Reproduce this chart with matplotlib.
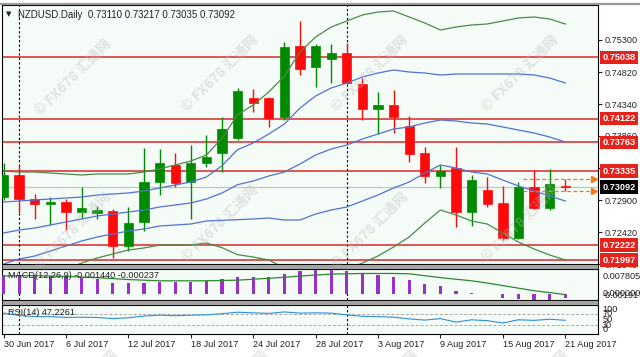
import matplotlib
matplotlib.use("Agg")
import matplotlib.pyplot as plt
import matplotlib.transforms as mtransforms
from matplotlib.patches import Rectangle
from matplotlib.lines import Line2D
import numpy as np

# ---------------------------------------------------------------------------
# Data (30 Jun - 21 Aug 2017)
# ---------------------------------------------------------------------------
tick_bars = [0, 4, 8, 12, 16, 20, 24, 28, 32, 36]
tick_dates = ["30 Jun 2017", "6 Jul 2017", "12 Jul 2017", "18 Jul 2017",
              "24 Jul 2017", "28 Jul 2017", "3 Aug 2017", "9 Aug 2017",
              "15 Aug 2017", "21 Aug 2017"]

opens = [0.72945, 0.73275, 0.72915, 0.72840, 0.72870, 0.72720, 0.72705, 0.72735,
         0.72210, 0.72570, 0.73170, 0.73425, 0.73170, 0.73455, 0.73605, 0.73830,
         0.74430, 0.74430, 0.74145, 0.75210, 0.74895, 0.75015, 0.75105, 0.74640,
         0.74265, 0.74325, 0.74010, 0.73605, 0.73260, 0.73380, 0.72720, 0.73050,
         0.72855, 0.72330, 0.73095, 0.72780, 0.73110]
highs = [0.73455, 0.73425, 0.72990, 0.72945, 0.72915, 0.73095, 0.72810, 0.72765,
         0.72795, 0.73680, 0.73665, 0.73605, 0.73725, 0.73875, 0.74145, 0.74580,
         0.74565, 0.74445, 0.75270, 0.75585, 0.75240, 0.75240, 0.75255, 0.74730,
         0.74520, 0.74550, 0.74160, 0.73695, 0.73425, 0.73695, 0.73275, 0.73245,
         0.73110, 0.73170, 0.73350, 0.73365, 0.73217]
lows = [0.72900, 0.72705, 0.72615, 0.72525, 0.72450, 0.72615, 0.72615, 0.72030,
        0.72135, 0.72435, 0.72975, 0.73095, 0.72615, 0.73395, 0.73320, 0.73800,
        0.74220, 0.73995, 0.74100, 0.74775, 0.74595, 0.74655, 0.74640, 0.74100,
        0.73890, 0.73905, 0.73470, 0.73155, 0.73080, 0.72495, 0.72510, 0.72795,
        0.72300, 0.72315, 0.72765, 0.72750, 0.73035]
closes = [0.73275, 0.72915, 0.72840, 0.72870, 0.72720, 0.72780, 0.72750, 0.72210,
          0.72555, 0.73170, 0.73455, 0.73155, 0.73455, 0.73545, 0.73965, 0.74535,
          0.74355, 0.74130, 0.75195, 0.74865, 0.75210, 0.75105, 0.74655, 0.74265,
          0.74325, 0.74145, 0.73590, 0.73260, 0.73335, 0.72720, 0.73200, 0.72840,
          0.72330, 0.73095, 0.72780, 0.73140, 0.73092]

# Bollinger middle line and one standard deviation (read per bar)
bb_mid = [0.72405, 0.72450, 0.72480, 0.72525, 0.72570, 0.72615, 0.72660, 0.72690,
          0.72720, 0.72750, 0.72795, 0.72825, 0.72855, 0.72915, 0.73005, 0.73130,
          0.73185, 0.73260, 0.73320, 0.73440, 0.73575, 0.73665, 0.73725, 0.73815,
          0.73890, 0.73965, 0.73995, 0.74055, 0.74100, 0.74085, 0.74055, 0.74040,
          0.73995, 0.73950, 0.73905, 0.73845, 0.73770]
bb_sd = [0.00465, 0.00435, 0.00420, 0.00390, 0.00360, 0.00330, 0.00315, 0.00300,
         0.00285, 0.00285, 0.00285, 0.00300, 0.00315, 0.00330, 0.00410, 0.00525,
         0.00570, 0.00630, 0.00720, 0.00840, 0.00885, 0.00915, 0.00930, 0.00930,
         0.00915, 0.00885, 0.00825, 0.00750, 0.00675, 0.00705, 0.00735, 0.00750,
         0.00795, 0.00840, 0.00870, 0.00885, 0.00885]

macd_main = [0.0059, 0.0059, 0.0056, 0.0056, 0.0056, 0.0050, 0.0046, 0.0033,
             0.0033, 0.0033, 0.0036, 0.0036, 0.0036, 0.0040, 0.0046, 0.0053,
             0.0053, 0.0053, 0.0063, 0.0071, 0.0075, 0.007805, 0.0073, 0.0064,
             0.0059, 0.0053, 0.0043, 0.0031, 0.0025, 0.0009, 0.0003, -0.0001,
             -0.0012, -0.0015, -0.001917, -0.0018, -0.00144]
macd_signal = [0.0056, 0.0057, 0.0057, 0.0056, 0.0055, 0.0053, 0.0051, 0.0048,
               0.0045, 0.0043, 0.0041, 0.0041, 0.0041, 0.0041, 0.0042, 0.0043,
               0.0046, 0.0049, 0.0052, 0.0056, 0.0059, 0.0062, 0.0063, 0.0064,
               0.0064, 0.0064, 0.0063, 0.0057, 0.0051, 0.0046, 0.0041, 0.0034,
               0.0026, 0.0018, 0.0010, 0.0004, -0.000237]

rsi = [72, 64, 60, 60, 57, 58, 57, 53, 56, 62, 65, 63, 65, 66, 70, 75, 73, 71, 76,
       72, 73, 72, 66, 61, 60, 58, 52, 48, 53, 41, 49, 46, 38, 49, 47, 51, 47.2261]

levels = [0.75038, 0.74122, 0.73763, 0.73335, 0.72222, 0.71997]
price_ticks = [0.75300, 0.74820, 0.74340, 0.73860, 0.73380, 0.72900, 0.72420, 0.71940]
month_bars = [1, 22]          # first trading day of Jul / Aug
macd_labels = [0.007805, 0.0, -0.001917]
rsi_labels = [100, 70, 50, 30, 0]

# ---------------------------------------------------------------------------
# Styling
# ---------------------------------------------------------------------------
BG = "#f5fbf7"
UP = "#008a00"
DOWN = "#ff0a0a"
LEVEL = "#dc3838"
BLUE = "#5072d2"
GREEN = "#4a8a4a"
FONT = "Liberation Sans"
plt.rcParams.update({"font.family": FONT})

W, H = 640, 357
fig = plt.figure(figsize=(W / 100, H / 100), dpi=100)
fig.patch.set_facecolor("white")


def fy(px):
    return 1 - px / H


left, width = 2 / W, 596 / W
ax = fig.add_axes([left, fy(264), width, 259 / H])
axm = fig.add_axes([left, fy(300), width, 31 / H])
axr = fig.add_axes([left, fy(334), width, 29 / H])

x = np.arange(len(closes))
xlim = (-0.1, 38.1)
o, h, l, c = map(np.array, (opens, highs, lows, closes))
col = np.where(c >= o, UP, DOWN)

for a in (ax, axm, axr):
    a.set_facecolor(BG)
    a.set_xlim(*xlim)
    for s in a.spines.values():
        s.set_color("black")
        s.set_linewidth(0.8)
    for mb in month_bars:
        a.axvline(mb, color="black", lw=0.8, ls=(0, (2, 2)), zorder=2)

# --- main price panel -------------------------------------------------------
ax.set_ylim(0.71940, 0.75825)
for lv in levels:
    ax.axhline(lv, color=LEVEL, lw=1.2, zorder=1)
ax.axhline(closes[-1], color="#c4c4c4", lw=0.9, zorder=1)

ax.vlines(x, l, h, colors=col, lw=1, zorder=3)
body = np.maximum(np.abs(c - o), 0.00012)
ax.bar(x, body, bottom=np.minimum(o, c), width=0.6, color=col, edgecolor=col,
       lw=0.5, zorder=4)

mid = np.array(bb_mid)
sd = np.array(bb_sd)
ax.plot(x, mid, color=BLUE, lw=0.9, zorder=5)
ax.plot(x, mid + sd, color=BLUE, lw=0.9, zorder=5)
ax.plot(x, mid - sd, color=BLUE, lw=0.9, zorder=5)
ax.plot(x, mid + 2 * sd, color=GREEN, lw=0.9, zorder=5)
ax.plot(x, mid - 2 * sd, color=GREEN, lw=0.9, zorder=5)

# high / low markers of the current bar
last = x[-1]
for v in (highs[-1], lows[-1]):
    ax.plot([last - 2.7, last + 1.85], [v, v], color="#f07818", lw=0.9,
            ls=(0, (3, 2)), zorder=5)
    ax.plot([last + 1.85], [v], marker=">", color="#f07818", ms=4, zorder=6,
            clip_on=False)

ax.set_xticks([])
ax.yaxis.tick_right()
ax.set_yticks(price_ticks)
ax.set_yticklabels([f"{t:.5f}" for t in price_ticks])
ax.tick_params(axis="y", direction="out", length=3, pad=2, labelsize=6.6,
               colors="#222222")

trans = mtransforms.blended_transform_factory(ax.transAxes, ax.transData)
for lv in levels:
    ax.text(1.007, lv, f"{lv:.5f}", transform=trans, ha="left", va="center",
            fontsize=6.6, fontweight="bold", color="white", clip_on=False,
            zorder=20,
            bbox=dict(boxstyle="square,pad=0.25", fc="#e5221c", ec="none"))
ax.text(1.007, closes[-1], f"{closes[-1]:.5f}", transform=trans, ha="left",
        va="center", fontsize=6.6, fontweight="bold", color="white",
        clip_on=False, zorder=20,
        bbox=dict(boxstyle="square,pad=0.25", fc="black", ec="none"))

ax.text(0.006, 0.975, "\u25bc", transform=ax.transAxes, fontsize=5,
        family="DejaVu Sans", va="top", ha="left", color="#222222")
ax.text(0.027, 0.98,
        f"NZDUSD.Daily  {opens[-1]:.5f} {highs[-1]:.5f} {lows[-1]:.5f} {closes[-1]:.5f}",
        transform=ax.transAxes, fontsize=7, va="top", ha="left",
        color="#222222")

# --- MACD panel -------------------------------------------------------------
axm.set_ylim(-0.001917, 0.007805)
axm.bar(x, macd_main, width=0.2, color="#9a30c8", zorder=3)
axm.plot(x, macd_signal, color="#2a8a2a", lw=0.9, zorder=4)
axm.set_xticks([])
axm.set_yticks([])
mtrans = mtransforms.blended_transform_factory(axm.transAxes, axm.transData)
mtrans_low = mtransforms.offset_copy(mtrans, fig=fig, x=0, y=-2.5, units="points")
for v, va in zip(macd_labels, ["top", "center", "bottom"]):
    axm.text(1.007, v, f"{v:.6f}", transform=mtrans_low if va == "top" else mtrans,
             ha="left", va=va, fontsize=6.6, color="#222222", clip_on=False)
axm.text(0.01, 0.93, f"MACD(12,26,9) {macd_main[-1]:.6f} {macd_signal[-1]:.6f}",
         transform=axm.transAxes, fontsize=6.6, va="top", ha="left",
         color="#222222", zorder=10)

# --- RSI panel --------------------------------------------------------------
axr.set_ylim(0, 100)
for lv in (70, 30):
    axr.axhline(lv, color="#a8a8a8", lw=0.7, ls=(0, (3, 2)), zorder=1)
axr.plot(x, rsi, color="#2f8fd8", lw=0.8, zorder=3)
axr.set_yticks([])
rtrans = mtransforms.blended_transform_factory(axr.transAxes, axr.transData)
for v in rsi_labels:
    va = "top" if v == 100 else ("bottom" if v == 0 else "center")
    axr.text(1.007, v, f"{v}", transform=rtrans, ha="left", va=va,
             fontsize=6.6, color="#222222", clip_on=False)
axr.text(0.01, 0.9, f"RSI(14) {rsi[-1]:.4f}", transform=axr.transAxes,
         fontsize=6.6, va="top", ha="left", color="#222222", zorder=10)
axr.set_xticks(tick_bars)
axr.set_xticklabels(tick_dates)
axr.tick_params(axis="x", direction="out", length=3, pad=1.5, labelsize=6.6,
                colors="#222222")
for lab in axr.get_xticklabels():
    lab.set_ha("left")

# --- panel separators and window frame --------------------------------------
for top_px, bot_px in ((264, 269), (300, 305)):
    fig.add_artist(Rectangle((left, fy(bot_px)), width, (bot_px - top_px) / H,
                             transform=fig.transFigure, fc="#a4a4a4",
                             ec="black", lw=0.6, zorder=5))
fig.add_artist(Line2D([0, 1], [fy(4), fy(4)], transform=fig.transFigure,
                      color="#9a9a9a", lw=1.6))

# --- watermarks -------------------------------------------------------------
for px, py in [(73, 77), (220, 73), (370, 73), (520, 73),
               (73, 230), (220, 223), (370, 230), (520, 223),
               (80, 388), (230, 388), (380, 388), (530, 388)]:
    fig.text(px / W, fy(py), "\u00a9 FX678 汇通网", rotation=45, ha="center",
             va="center", fontsize=10, fontweight="bold", color="#bcbcbc",
             alpha=0.38, family=["Noto Sans CJK SC", "DejaVu Sans"], zorder=30)

fig.savefig("out.png", dpi=100, facecolor=fig.get_facecolor())
